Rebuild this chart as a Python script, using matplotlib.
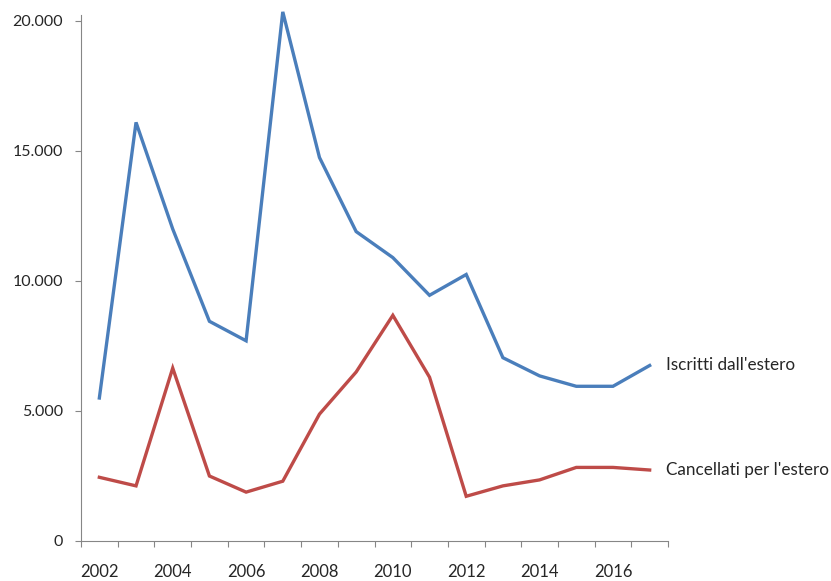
import numpy as np
import matplotlib
matplotlib.use("Agg")
import matplotlib.pyplot as plt
from matplotlib.ticker import FuncFormatter, FixedLocator

plt.rcParams['font.family'] = ['Lato', 'DejaVu Sans']

years = list(range(2002, 2018))
iscritti = [5500, 16100, 12000, 8450, 7700, 20350, 14750, 11900, 10900,
            9450, 10250, 7050, 6350, 5950, 5950, 6750]
cancellati = [2450, 2120, 6650, 2500, 1880, 2300, 4880, 6500, 8680,
              6300, 1720, 2120, 2350, 2830, 2830, 2730]
labels = ["Iscritti dall'estero", "Cancellati per l'estero"]
colors = ["#4A7EBB", "#BE4B48"]

fig = plt.figure(figsize=(8.31, 5.81), dpi=100)
ax = fig.add_axes([81 / 831, 40 / 581, 587 / 831, 526 / 581])

x = np.arange(len(years))
for vals, lab, col in zip([iscritti, cancellati], labels, colors):
    ax.plot(x, vals, color=col, lw=2.4, clip_on=False, solid_joinstyle="miter")
    ax.annotate(lab, (x[-1], vals[-1]), xytext=(11.5, 0), textcoords="offset points",
                va="center", ha="left", fontsize=12.3, color="#262626")

ax.set_xlim(-0.5, len(years) - 0.5)
ax.set_ylim(0, 20230)
ax.set_yticks([0, 5000, 10000, 15000, 20000])
ax.yaxis.set_major_formatter(FuncFormatter(lambda v, p: f"{v:,.0f}".replace(",", ".")))

ax.xaxis.set_major_locator(FixedLocator(np.arange(-0.5, len(years), 1.0)))
ax.xaxis.set_major_formatter(FuncFormatter(lambda v, p: ""))
ax.xaxis.set_minor_locator(FixedLocator(x[::2]))
ax.xaxis.set_minor_formatter(FuncFormatter(lambda v, p: str(years[int(round(v))])))
ax.tick_params(axis="x", which="major", direction="out", length=4, color="#868686")
ax.tick_params(axis="x", which="minor", length=0, pad=16.5, labelsize=12, labelcolor="#262626")
ax.tick_params(axis="y", direction="out", length=4, color="#868686", pad=9,
               labelsize=11.5, labelcolor="#262626")

for s in ["top", "right"]:
    ax.spines[s].set_visible(False)
for s in ["left", "bottom"]:
    ax.spines[s].set_color("#868686")

fig.savefig("out.png", dpi=100)
